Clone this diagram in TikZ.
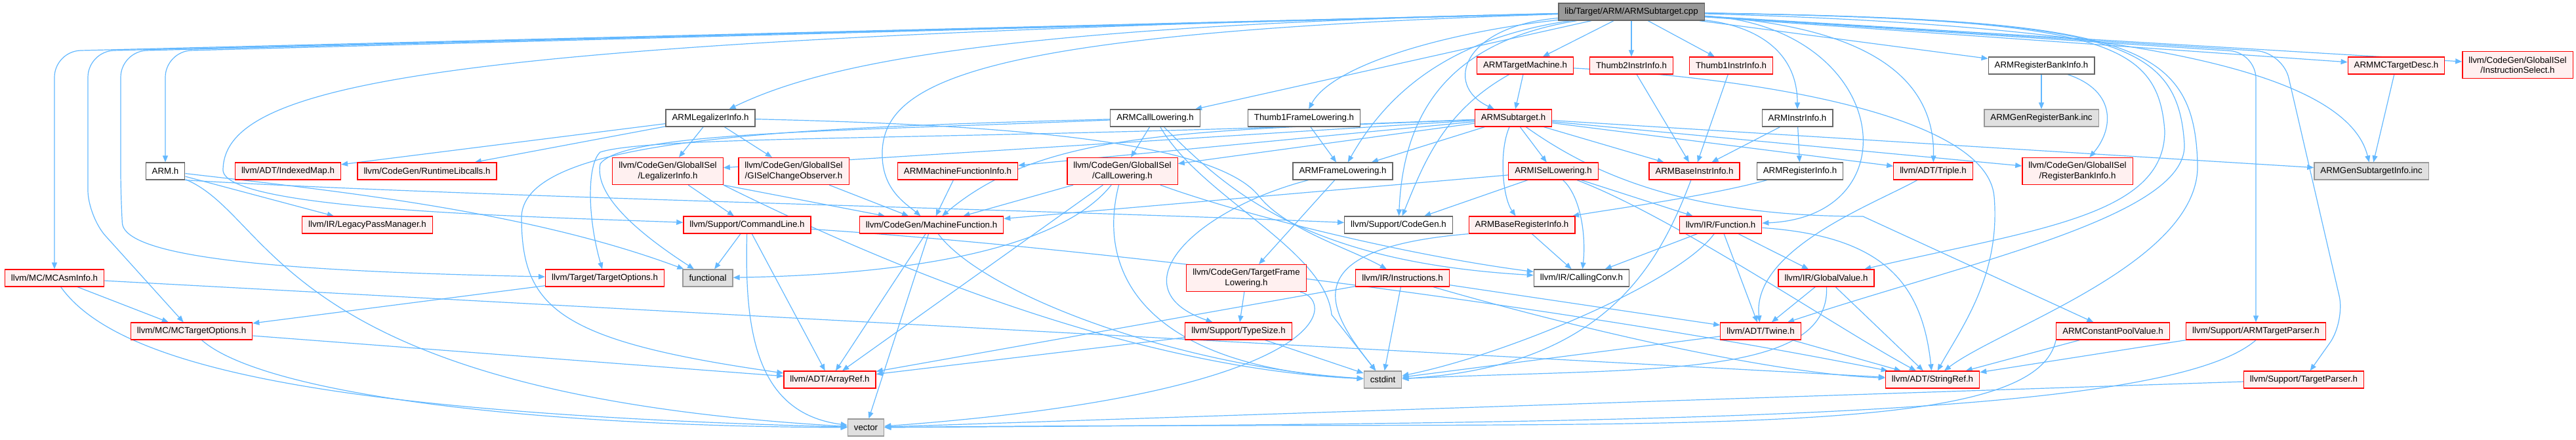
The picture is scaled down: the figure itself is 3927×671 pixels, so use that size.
\documentclass[tikz,border=0pt]{standalone}
\usepackage{fontspec}
\setmainfont{Liberation Sans}
\usetikzlibrary{arrows.meta}
\pgfdeclarelayer{bg}
\pgfsetlayers{bg,main}
\definecolor{edgeblue}{HTML}{63B8FF}
\definecolor{boxred}{HTML}{FF0000}
\definecolor{boxpink}{HTML}{FFF0F0}
\definecolor{boxgrey}{HTML}{666666}
\definecolor{boxlight}{HTML}{999999}
\definecolor{boxfill}{HTML}{E0E0E0}
\definecolor{rootfill}{HTML}{999999}
\begin{document}
\begin{tikzpicture}[x=1pt,y=-1pt,
  hfile/.style={draw,line width=1.3pt,minimum height=26pt,inner xsep=9.5pt,inner ysep=2pt,align=center,font=\fontsize{13.3}{15.5}\selectfont},
  trunc/.style={hfile,draw=boxred,fill=boxpink},
  okfile/.style={hfile,draw=boxgrey,fill=white},
  sys/.style={hfile,draw=boxlight,fill=boxfill},
  root/.style={hfile,draw=boxgrey,fill=rootfill},
  tall/.style={minimum height=41pt},
  inc/.style={draw=edgeblue,line width=1.2pt,-{Triangle[length=10pt,width=8pt]}},
  detour/.style={inc,rounded corners=40pt}]
\useasboundingbox (0,0) rectangle (3927,671);
\node[root] (cpp) at (2487,18) {lib/Target/ARM/ARMSubtarget.cpp};
\node[trunc] (tm) at (2325,100) {ARMTargetMachine.h}; \node[trunc] (ttwo) at (2487,100) {Thumb2InstrInfo.h}; \node[trunc] (tone) at (2639,100) {Thumb1InstrInfo.h};
\node[okfile] (rbank) at (3112,100) {ARMRegisterBankInfo.h}; \node[trunc] (mcdesc) at (3653,100) {ARMMCTargetDesc.h};
\node[trunc,tall] (isel) at (3838,99) {llvm/CodeGen/GlobalISel\\/InstructionSelect.h};
\node[okfile] (legal) at (1083,180) {ARMLegalizerInfo.h}; \node[okfile] (calllow) at (1761,180) {ARMCallLowering.h}; \node[okfile] (tfl1) at (1988,180) {Thumb1FrameLowering.h};
\node[trunc] (sub) at (2307,180) {ARMSubtarget.h}; \node[okfile] (instr) at (2740,180) {ARMInstrInfo.h}; \node[sys] (genbank) at (3112,180) {ARMGenRegisterBank.inc};
\node[okfile] (armh) at (252,261) {ARM.h}; \node[trunc] (idxmap) at (439,261) {llvm/ADT/IndexedMap.h}; \node[trunc] (rtlib) at (651,261) {llvm/CodeGen/RuntimeLibcalls.h};
\node[trunc,tall] (legalinfo) at (1018,261) {llvm/CodeGen/GlobalISel\\/LegalizerInfo.h}; \node[trunc,tall] (gisel) at (1210,261) {llvm/CodeGen/GlobalISel\\/GISelChangeObserver.h};
\node[trunc] (mfi) at (1460,261) {ARMMachineFunctionInfo.h}; \node[trunc,tall] (gcall) at (1711,261) {llvm/CodeGen/GlobalISel\\/CallLowering.h};
\node[okfile] (framelow) at (2047,261) {ARMFrameLowering.h}; \node[trunc] (isellow) at (2368,261) {ARMISelLowering.h}; \node[trunc] (baseinstr) at (2583,261) {ARMBaseInstrInfo.h};
\node[okfile] (reginfo) at (2744,261) {ARMRegisterInfo.h}; \node[trunc] (triple) at (2947,261) {llvm/ADT/Triple.h};
\node[trunc,tall] (gisrbi) at (3167,261) {llvm/CodeGen/GlobalISel\\/RegisterBankInfo.h}; \node[sys] (gensub) at (3615,261) {ARMGenSubtargetInfo.inc};
\node[trunc] (lpm) at (560,343) {llvm/IR/LegacyPassManager.h}; \node[trunc] (cmdline) at (1139,343) {llvm/Support/CommandLine.h}; \node[trunc] (mfunc) at (1420,343) {llvm/CodeGen/MachineFunction.h};
\node[okfile] (cgen) at (2132,343) {llvm/Support/CodeGen.h}; \node[trunc] (basereg) at (2320,343) {ARMBaseRegisterInfo.h}; \node[trunc] (func) at (2623,343) {llvm/IR/Function.h};
\node[trunc] (mcasm) at (83,424) {llvm/MC/MCAsmInfo.h}; \node[trunc] (topts) at (922,424) {llvm/Target/TargetOptions.h}; \node[sys] (functional) at (1079,424) {functional};
\node[trunc,tall] (tframe) at (1900,424) {llvm/CodeGen/TargetFrame\\Lowering.h}; \node[trunc] (insts) at (2138,424) {llvm/IR/Instructions.h};
\node[okfile] (cconv) at (2411,424) {llvm/IR/CallingConv.h}; \node[trunc] (gvalue) at (2784,424) {llvm/IR/GlobalValue.h};
\node[trunc] (mcopts) at (292,505) {llvm/MC/MCTargetOptions.h}; \node[trunc] (tsize) at (1888,505) {llvm/Support/TypeSize.h}; \node[trunc] (twine) at (2684,505) {llvm/ADT/Twine.h};
\node[trunc] (cpool) at (3221,505) {ARMConstantPoolValue.h}; \node[trunc] (armtp) at (3439,505) {llvm/Support/ARMTargetParser.h};
\node[trunc] (aref) at (1265,579) {llvm/ADT/ArrayRef.h}; \node[sys] (cstdint) at (2108,579) {cstdint}; \node[trunc] (sref) at (2946,579) {llvm/ADT/StringRef.h}; \node[trunc] (tparser) at (3512,579) {llvm/Support/TargetParser.h};
\node[sys] (vector) at (1320,652) {vector};
\begin{pgfonlayer}{bg}
% includes of the .cpp file
\draw[detour] (cpp) -- (83,78) -- (mcasm);
\draw[detour] (cpp) -- (134,78) -- (134,330) -- (mcopts);
\draw[detour] (cpp) -- (184,78) -- (184,300) .. controls (190,400) and (500,415) .. (topts);
\draw[detour] (cpp) -- (252,78) -- (armh);
\draw[inc] (cpp) .. controls (700,60) and (340,120) .. (340,260) .. controls (345,320) and (800,330) .. (cmdline);
\draw[inc] (cpp) .. controls (1500,40) and (1250,100) .. (legal);
\draw[inc] (cpp) -- (calllow);
\draw[inc] (cpp) .. controls (2200,50) and (2030,100) .. (tfl1);
\draw[inc] (cpp) .. controls (2200,60) and (2110,150) .. (framelow);
\draw[inc] (cpp) .. controls (1500,50) and (1340,120) .. (1345,240) .. controls (1347,290) and (1380,310) .. (mfunc);
\draw[inc] (cpp) .. controls (2230,60) and (2140,150) .. (cgen);
\draw[inc] (cpp) .. controls (2230,40) and (2200,130) .. (sub);
\draw[inc] (cpp) -- (tm); \draw[inc] (cpp) -- (ttwo); \draw[inc] (cpp) -- (tone);
\draw[inc] (cpp) .. controls (2680,40) and (2740,80) .. (instr);
\draw[inc] (cpp) .. controls (2850,40) and (2950,120) .. (triple);
\draw[inc] (cpp) -- (rbank); \draw[inc] (cpp) -- (mcdesc); \draw[inc] (cpp) -- (isel);
\draw[inc] (cpp) .. controls (3300,40) and (3580,120) .. (gensub);
\draw[inc] (cpp) .. controls (2880,40) and (2920,330) .. (func);
\draw[inc] (cpp) .. controls (3200,30) and (3290,60) .. (3300,200) .. controls (3300,330) and (3100,350) .. (gvalue);
\draw[inc] (cpp) .. controls (3220,30) and (3320,60) .. (3330,220) .. controls (3335,330) and (3000,400) .. (twine);
\draw[inc] (cpp) .. controls (3240,30) and (3345,60) .. (3350,250) .. controls (3355,400) and (3050,500) .. (sref);
\draw[detour] (cpp) -- (3439,80) -- (armtp);
\draw[detour] (cpp) -- (3480,80) -- (3575,490) -- (tparser);
% target machine and instruction infos
\draw[inc] (tm) -- (sub);
\draw[inc] (tm) .. controls (2200,170) and (2170,250) .. (cgen);
\draw[inc] (tm) .. controls (2700,120) and (3030,180) .. (3040,300) .. controls (3050,420) and (2990,500) .. (sref);
\draw[inc] (ttwo) -- (baseinstr); \draw[inc] (tone) -- (baseinstr);
\draw[inc] (instr) -- (baseinstr); \draw[inc] (instr) -- (reginfo);
\draw[inc] (reginfo) .. controls (2600,300) and (2450,320) .. (basereg);
\draw[inc] (rbank) -- (genbank);
\draw[inc] (rbank) .. controls (3230,140) and (3220,200) .. (gisrbi);
\draw[inc] (mcdesc) -- (gensub);
% ARMSubtarget.h
\draw[inc] (sub) -- (framelow); \draw[inc] (sub) -- (isellow); \draw[inc] (sub) -- (baseinstr);
\draw[inc] (sub) .. controls (2285,230) and (2290,300) .. (basereg);
\draw[inc] (sub) .. controls (2420,260) and (2560,330) .. (2840,330) -- (cpool);
\draw[inc] (sub) -- (triple); \draw[inc] (sub) -- (gisrbi); \draw[inc] (sub) -- (gensub);
\draw[inc] (sub) -- (mfi); \draw[inc] (sub) -- (gcall); \draw[inc] (sub) -- (legalinfo);
\draw[inc] (sub) .. controls (1800,200) and (1590,200) .. (mfunc);
\draw[inc] (sub) .. controls (1500,215) and (1000,205) .. (915,232) .. controls (895,250) and (895,330) .. (topts);
% lowering and register info
\draw[inc] (isellow) -- (mfunc); \draw[inc] (isellow) -- (cgen);
\draw[inc] (isellow) .. controls (2410,300) and (2418,360) .. (cconv);
\draw[inc] (isellow) -- (func);
\draw[inc] (isellow) .. controls (2550,330) and (2800,500) .. (sref);
\draw[inc] (baseinstr) .. controls (2530,400) and (2450,560) .. (cstdint);
\draw[inc] (basereg) -- (cconv);
\draw[inc] (basereg.south west) .. controls (1960,380) and (2030,480) .. (cstdint);
% llvm/IR and llvm/ADT
\draw[inc] (func) -- (cconv); \draw[inc] (func) -- (gvalue); \draw[inc] (func) -- (twine);
\draw[inc] (func) .. controls (2870,360) and (2930,430) .. (sref);
\draw[inc] (func) .. controls (2560,430) and (2300,540) .. (cstdint);
\draw[inc] (gvalue) -- (twine); \draw[inc] (gvalue) -- (sref);
\draw[inc] (gvalue) .. controls (2790,580) and (2500,560) .. (cstdint);
\draw[inc] (twine) -- (sref); \draw[inc] (twine) -- (cstdint);
\draw[inc] (triple) .. controls (2860,310) and (2670,380) .. (twine);
\draw[inc] (insts) -- (aref); \draw[inc] (insts) -- (cstdint); \draw[inc] (insts) -- (twine);
\draw[inc] (insts) .. controls (2400,500) and (2700,570) .. (sref);
% left part
\draw[inc] (armh) -- (lpm);
\draw[inc] (armh.south east) .. controls (700,300) and (1600,320) .. (cgen);
\draw[inc] (armh) .. controls (500,290) and (800,320) .. (functional);
\draw[inc] (armh) .. controls (420,330) and (420,600) .. (vector);
\draw[inc] (legal) -- (idxmap); \draw[inc] (legal) -- (rtlib); \draw[inc] (legal) -- (legalinfo); \draw[inc] (legal) -- (gisel);
\draw[inc] (legal) .. controls (1500,190) and (1850,210) .. (1920,300) .. controls (1960,350) and (2060,380) .. (insts);
\draw[inc] (legalinfo) -- (cmdline);
\draw[inc] (legalinfo.south east) -- (mfunc);
\draw[inc] (legalinfo.south east) .. controls (1300,380) and (1700,560) .. (cstdint);
\draw[inc] (gisel) -- (mfunc); \draw[inc] (mfi) -- (mfunc);
\draw[inc] (tfl1) -- (framelow);
\draw[inc] (calllow) -- (gcall);
\draw[inc] (calllow) .. controls (1300,200) and (950,200) .. (915,250) .. controls (905,300) and (980,360) .. (functional);
\draw[inc] (calllow) .. controls (1200,195) and (800,210) .. (795,330) .. controls (795,470) and (850,520) .. (aref);
\draw[inc] (calllow) .. controls (1880,300) and (2000,400) .. (cconv);
\draw[inc] (calllow) .. controls (1830,300) and (2020,380) .. (2030,480) -- (cstdint);
\draw[inc] (gcall) -- (mfunc); \draw[inc] (gcall) -- (aref);
\draw[inc] (gcall) .. controls (1600,400) and (1300,420) .. (functional);
\draw[inc] (gcall) .. controls (1670,420) and (1750,560) .. (cstdint);
\draw[inc] (gcall) .. controls (1900,330) and (2150,390) .. (cconv);
\draw[inc] (mfunc) -- (aref); \draw[inc] (mfunc) -- (vector);
\draw[inc] (mfunc) .. controls (1500,450) and (1800,560) .. (cstdint);
\draw[inc] (cmdline) -- (functional); \draw[inc] (cmdline) -- (aref);
\draw[inc] (cmdline) .. controls (1135,500) and (1150,630) .. (vector);
\draw[inc] (cmdline) .. controls (1700,380) and (2400,470) .. (sref);
\draw[inc] (topts) -- (mcopts);
\draw[inc] (mcasm) -- (mcopts); \draw[inc] (mcasm) -- (sref);
\draw[inc] (mcasm) .. controls (180,560) and (500,630) .. (vector);
\draw[inc] (mcopts) -- (aref);
\draw[inc] (mcopts) .. controls (400,600) and (800,650) .. (vector);
\draw[inc] (framelow) -- (tframe);
\draw[inc] (framelow) .. controls (1820,320) and (1700,440) .. (tsize);
\draw[inc] (tframe) -- (tsize);
\draw[inc] (tframe) .. controls (2040,460) and (2030,600) .. (vector);
\draw[inc] (tsize) -- (aref); \draw[inc] (tsize) -- (cstdint);
% right part
\draw[inc] (cpool) -- (sref);
\draw[inc] (cpool.south west) .. controls (3100,680) and (2500,640) .. (vector);
\draw[inc] (armtp.south west) -- (sref);
\draw[inc] (armtp.south) .. controls (3300,640) and (2500,645) .. (vector);
\draw[inc] (tparser) -- (vector);
\end{pgfonlayer}
\end{tikzpicture}
\end{document}
